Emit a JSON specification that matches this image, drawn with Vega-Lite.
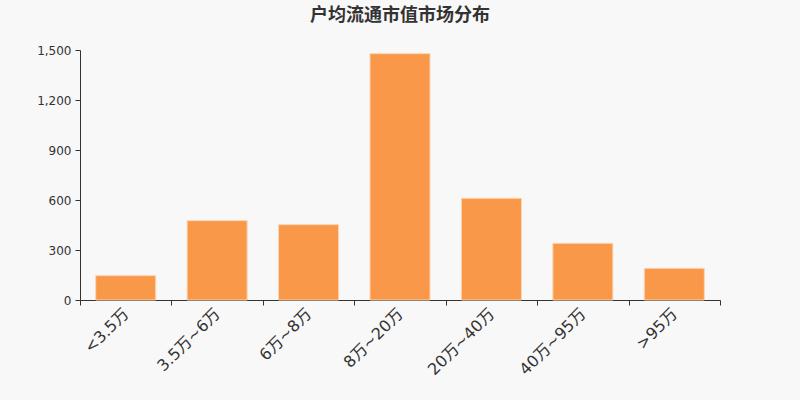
{
  "$schema": "https://vega.github.io/schema/vega-lite/v6.json",
  "description": "户均流通市值市场分布",
  "autosize": "none",
  "width": 640,
  "height": 250,
  "padding": {"left": 80, "top": 50, "right": 80, "bottom": 100},
  "background": "#f8f8f8",
  "title": {
    "text": "户均流通市值市场分布",
    "anchor": "middle",
    "frame": "group",
    "fontSize": 18,
    "fontWeight": "bold",
    "color": "#333333",
    "font": "Noto Sans CJK SC",
    "offset": 19
  },
  "config": {
    "view": {"stroke": null},
    "font": "DejaVu Sans, Noto Sans CJK SC",
    "axis": {
      "domainColor": "#333333",
      "tickColor": "#333333",
      "labelColor": "#333333",
      "grid": false,
      "title": null,
      "tickSize": 5
    }
  },
  "data": {
    "values": [
      {"range": "<3.5万", "count": 146},
      {"range": "3.5万~6万", "count": 476},
      {"range": "6万~8万", "count": 452},
      {"range": "8万~20万", "count": 1478},
      {"range": "20万~40万", "count": 610},
      {"range": "40万~95万", "count": 340},
      {"range": ">95万", "count": 190}
    ]
  },
  "mark": {
    "type": "bar",
    "color": "#f89848",
    "stroke": "#fcd3b0",
    "strokeWidth": 1,
    "width": {"band": 0.656}
  },
  "encoding": {
    "x": {
      "field": "range",
      "type": "nominal",
      "sort": null,
      "scale": {"paddingInner": 0, "paddingOuter": 0},
      "axis": {
        "labelAngle": -45,
        "labelAlign": "right",
        "labelBaseline": "middle",
        "labelFontSize": 16,
        "labelPadding": 6,
        "tickBand": "extent"
      }
    },
    "y": {
      "field": "count",
      "type": "quantitative",
      "scale": {"domain": [0, 1500]},
      "axis": {
        "values": [0, 300, 600, 900, 1200, 1500],
        "format": ",d",
        "labelFontSize": 12,
        "labelPadding": 4
      }
    }
  }
}
